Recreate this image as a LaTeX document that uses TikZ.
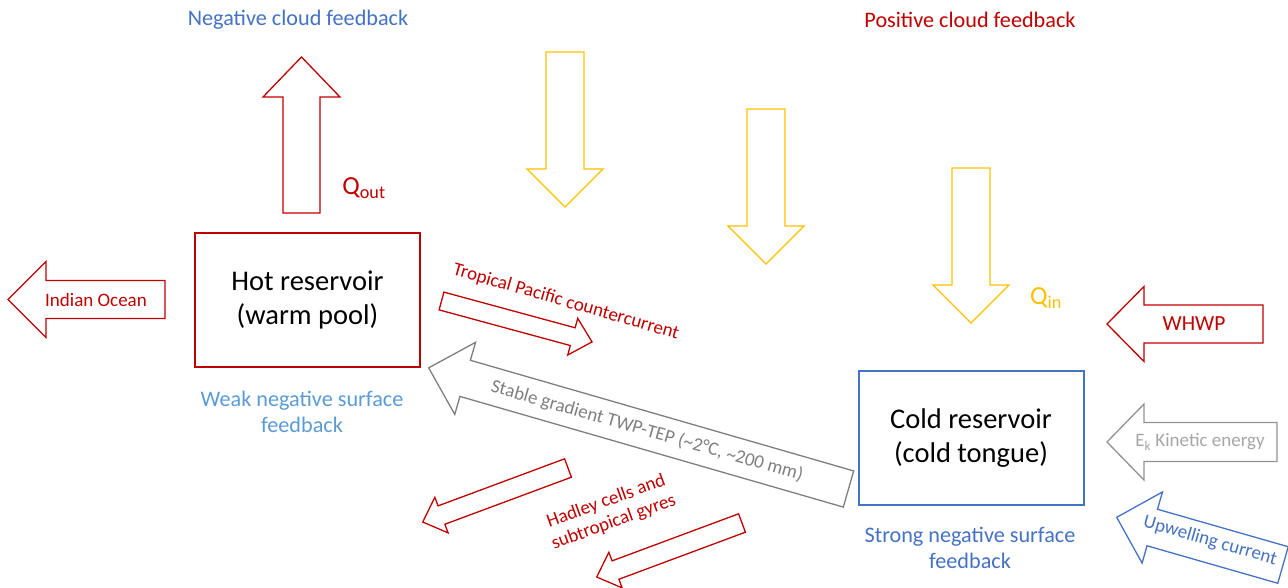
\documentclass[tikz,border=0pt]{standalone}
\usepackage{fontspec}
\setmainfont{Carlito}
\definecolor{darkred}{HTML}{C00000}
\definecolor{midblue}{HTML}{4472C4}
\definecolor{lightblue}{HTML}{5B9BD5}
\definecolor{sunyellow}{HTML}{FFC000}
\definecolor{midgray}{HTML}{7F7F7F}
\definecolor{palegray}{HTML}{A6A6A6}
\tikzset{
  pics/blockarrow/.style args={#1/#2/#3/#4}{
    code={
      \draw[pic actions] (0,-#2) -- ({#1-#4},-#2) -- ({#1-#4},-#3) -- (#1,0)
        -- ({#1-#4},#3) -- ({#1-#4},#2) -- (0,#2) -- cycle;
    }
  },
}
\begin{document}
\begin{tikzpicture}[x=1pt,y=-1pt,
    reservoir/.style={draw, line width=2pt, minimum width=225pt, minimum height=134pt,
      align=center, font=\fontsize{28.5}{34}\selectfont},
    big/.style={align=center, font=\fontsize{22.2}{26}\selectfont},
    small/.style={align=center, font=\fontsize{19}{22}\selectfont},
    flow/.style={line width=1.3pt, line join=miter}]
    \useasboundingbox (0,0) rectangle (1288,587);

    % reservoirs
    \node[reservoir, draw=darkred] (hot) at (307.5,300) {Hot reservoir\\(warm pool)};
    \node[reservoir, draw=midblue] (cold) at (971,438) {Cold reservoir\\(cold tongue)};
    \node[big, text=lightblue] (weak) at (302,412) {Weak negative surface\\feedback};
    \node[big, text=midblue] (strong) at (970,548) {Strong negative surface\\feedback};

    % cloud feedbacks
    \node[big, text=midblue] (negcloud) at (298,20) {Negative cloud feedback};
    \node[big, text=darkred] (poscloud) at (970,20) {Positive cloud feedback};

    % heat out and in
    \pic[flow, draw=darkred, rotate=90] at (301.5,213) {blockarrow=156/18.5/38.5/40};
    \node[text=darkred, font=\fontsize{26}{30}\selectfont] (qout) at (364,188) {Q\textsubscript{out}};
    \pic[flow, draw=sunyellow, rotate=-90] at (565,52) {blockarrow=155/19/38/38};
    \pic[flow, draw=sunyellow, rotate=-90] at (766,109) {blockarrow=155/19/38/38};
    \pic[flow, draw=sunyellow, rotate=-90] at (971,168) {blockarrow=155/19/38/38};
    \node[text=sunyellow, font=\fontsize{26}{30}\selectfont] (qin) at (1046,298) {Q\textsubscript{in}};

    % side flows
    \pic[flow, draw=darkred, rotate=180] at (165,299.5) {blockarrow=157/19/38/38};
    \node[small, text=darkred] (indian) at (96,300) {Indian Ocean};
    \pic[flow, draw=darkred, rotate=180] at (1263,324) {blockarrow=156/19/37.5/37};
    \node[text=darkred, font=\fontsize{21.5}{26}\selectfont] (whwp) at (1194,324) {WHWP};
    \pic[flow, draw=midgray!85, rotate=180] at (1277,442) {blockarrow=170/19.5/38/37};
    \node[small, text=palegray] (ek) at (1200,442) {E\textsubscript{k} Kinetic energy};
    \pic[flow, draw=midblue, rotate=164] at (1283,565) {blockarrow=173/19/37/37};
    \node[small, text=midblue, rotate=-16] (upwell) at (1210,541) {Upwelling current};

    % currents between the reservoirs
    \pic[flow, draw=darkred, rotate=-15.2] at (441.5,301) {blockarrow=156/9.2/19/20};
    \node[small, text=darkred, rotate=-16] (counter) at (566,302) {Tropical Pacific countercurrent};
    \pic[flow, draw=midgray, rotate=163.9] at (848.5,489) {blockarrow=437/18.8/37.5/38};
    \node[small, text=midgray, rotate=-16] (gradient) at (647,431) {Stable gradient TWP-TEP (\textasciitilde2°C, \textasciitilde200 mm)};
    \pic[flow, draw=darkred, rotate=200.4] at (568,468) {blockarrow=155/9.8/19/20};
    \pic[flow, draw=darkred, rotate=200.4] at (742,523) {blockarrow=155/9.8/19/20};
    \node[small, text=darkred, rotate=20] (hadley) at (610,512) {Hadley cells and\\subtropical gyres};
\end{tikzpicture}
\end{document}
